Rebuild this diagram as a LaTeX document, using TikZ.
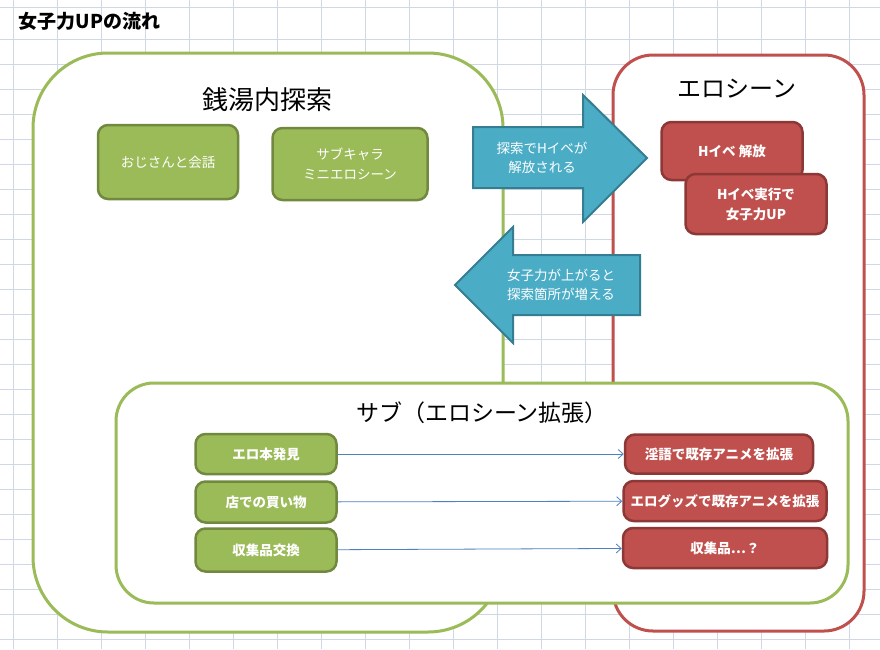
\documentclass[tikz,border=0pt]{standalone}
\usepackage{fontspec}
\setmainfont{Noto Sans CJK JP}
\usetikzlibrary{arrows.meta}
\definecolor{gridcol}{HTML}{D0D7E5}
\definecolor{grnfill}{HTML}{9BBB59}
\definecolor{grnline}{HTML}{71893F}
\definecolor{redfill}{HTML}{C0504D}
\definecolor{redline}{HTML}{8C3836}
\definecolor{bluefill}{HTML}{4BACC6}
\definecolor{blueline}{HTML}{357D91}
\definecolor{linkcol}{HTML}{4F81BD}
\begin{document}
\begin{tikzpicture}[x=1pt,y=-1pt,
  gridline/.style={draw=gridcol,line width=0.8pt},
  greenbox/.style={draw=grnline,fill=grnfill,line width=2.5pt,rounded corners=10pt,text=white,align=center,inner sep=0pt,font=\fontsize{13.5}{20}\selectfont},
  redbox/.style={draw=redline,fill=redfill,line width=2.5pt,rounded corners=10pt,text=white,align=center,inner sep=0pt,font=\bfseries\fontsize{13.5}{20}\selectfont},
  bluearrow/.style={draw=blueline,fill=bluefill,line width=2pt,line join=miter},
  arrowtext/.style={text=white,align=center,font=\fontsize{13.5}{19}\selectfont},
  heading/.style={font=\fontsize{#1}{#1}\selectfont},
  link/.style={draw=linkcol,line width=0.8pt,-{Straight Barb[length=5pt,width=9pt]}}]
  \useasboundingbox (0,0) rectangle (880,649);
  \fill[white] (0,0) rectangle (880,649);
  % spreadsheet grid
  \foreach \i in {0,...,19} \draw[gridline] ({13+44*\i},0) -- ({13+44*\i},649);
  \foreach \j in {0,...,24} \draw[gridline] (0,{39+25*\j}) -- (880,{39+25*\j});
  \draw[gridline] (0,7) -- (880,7);
  \node (title) [anchor=west,font=\bfseries\fontsize{19}{19}\selectfont] at (15,21) {女子力UPの流れ};
  % containers
  \draw[grnfill,fill=white,line width=3pt,rounded corners=75pt] (33,53) rectangle (503,632);
  \draw[redfill,fill=white,line width=3pt,rounded corners=40pt] (613,55) rectangle (864,631);
  \node (explore) [heading=26] at (267,100) {銭湯内探索};
  \node (scene) [heading=24] at (737,89) {エロシーン};
  % big arrows
  \filldraw[bluearrow] (473,127) -- (583,127) -- (583,95) -- (647,158) -- (583,222) -- (583,188) -- (473,188) -- cycle;
  \node (unlock) [arrowtext] at (542,158) {探索でHイベが\\解放される};
  \filldraw[bluearrow] (640,255) -- (513,255) -- (513,227) -- (455,285) -- (513,343) -- (513,315) -- (640,315) -- cycle;
  \node (grow) [arrowtext] at (561,285) {女子力が上がると\\探索箇所が増える};
  \draw[grnfill,fill=white,line width=3pt,rounded corners=38pt] (116,383) rectangle (848,603);
  \node (sub) [heading=23] at (482,413) {サブ（エロシーン拡張）};
  % boxes
  \node (talk) [greenbox,minimum width=140pt,minimum height=74pt] at (168,162) {おじさんと会話};
  \node (mini) [greenbox,minimum width=155pt,minimum height=72pt] at (350,164) {サブキャラ\\ミニエロシーン};
  \node (hopen) [redbox,minimum width=141pt,minimum height=58pt] at (732,151) {Hイベ 解放};
  \node (hrun) [redbox,minimum width=141pt,minimum height=60pt] at (756,204) {Hイベ実行で\\女子力UP};
  \node (book) [greenbox,font=\bfseries\fontsize{13.5}{20}\selectfont,minimum width=141pt,minimum height=40pt] at (266,454) {エロ本発見};
  \node (shop) [greenbox,font=\bfseries\fontsize{13.5}{20}\selectfont,minimum width=141pt,minimum height=41pt] at (266,502) {店での買い物};
  \node (trade) [greenbox,font=\bfseries\fontsize{13.5}{20}\selectfont,minimum width=141pt,minimum height=43pt] at (266,550) {収集品交換};
  \node (voice) [redbox,minimum width=188pt,minimum height=39pt] at (719,454) {淫語で既存アニメを拡張};
  \node (goods) [redbox,minimum width=203pt,minimum height=40pt] at (725,501) {エログッズで既存アニメを拡張};
  \node (items) [redbox,minimum width=204pt,minimum height=40pt] at (725,548) {収集品…？};
  \draw[link] (book) -- (voice);
  \draw[link] (shop) -- (goods);
  \draw[link] (trade) -- (items);
\end{tikzpicture}
\end{document}
